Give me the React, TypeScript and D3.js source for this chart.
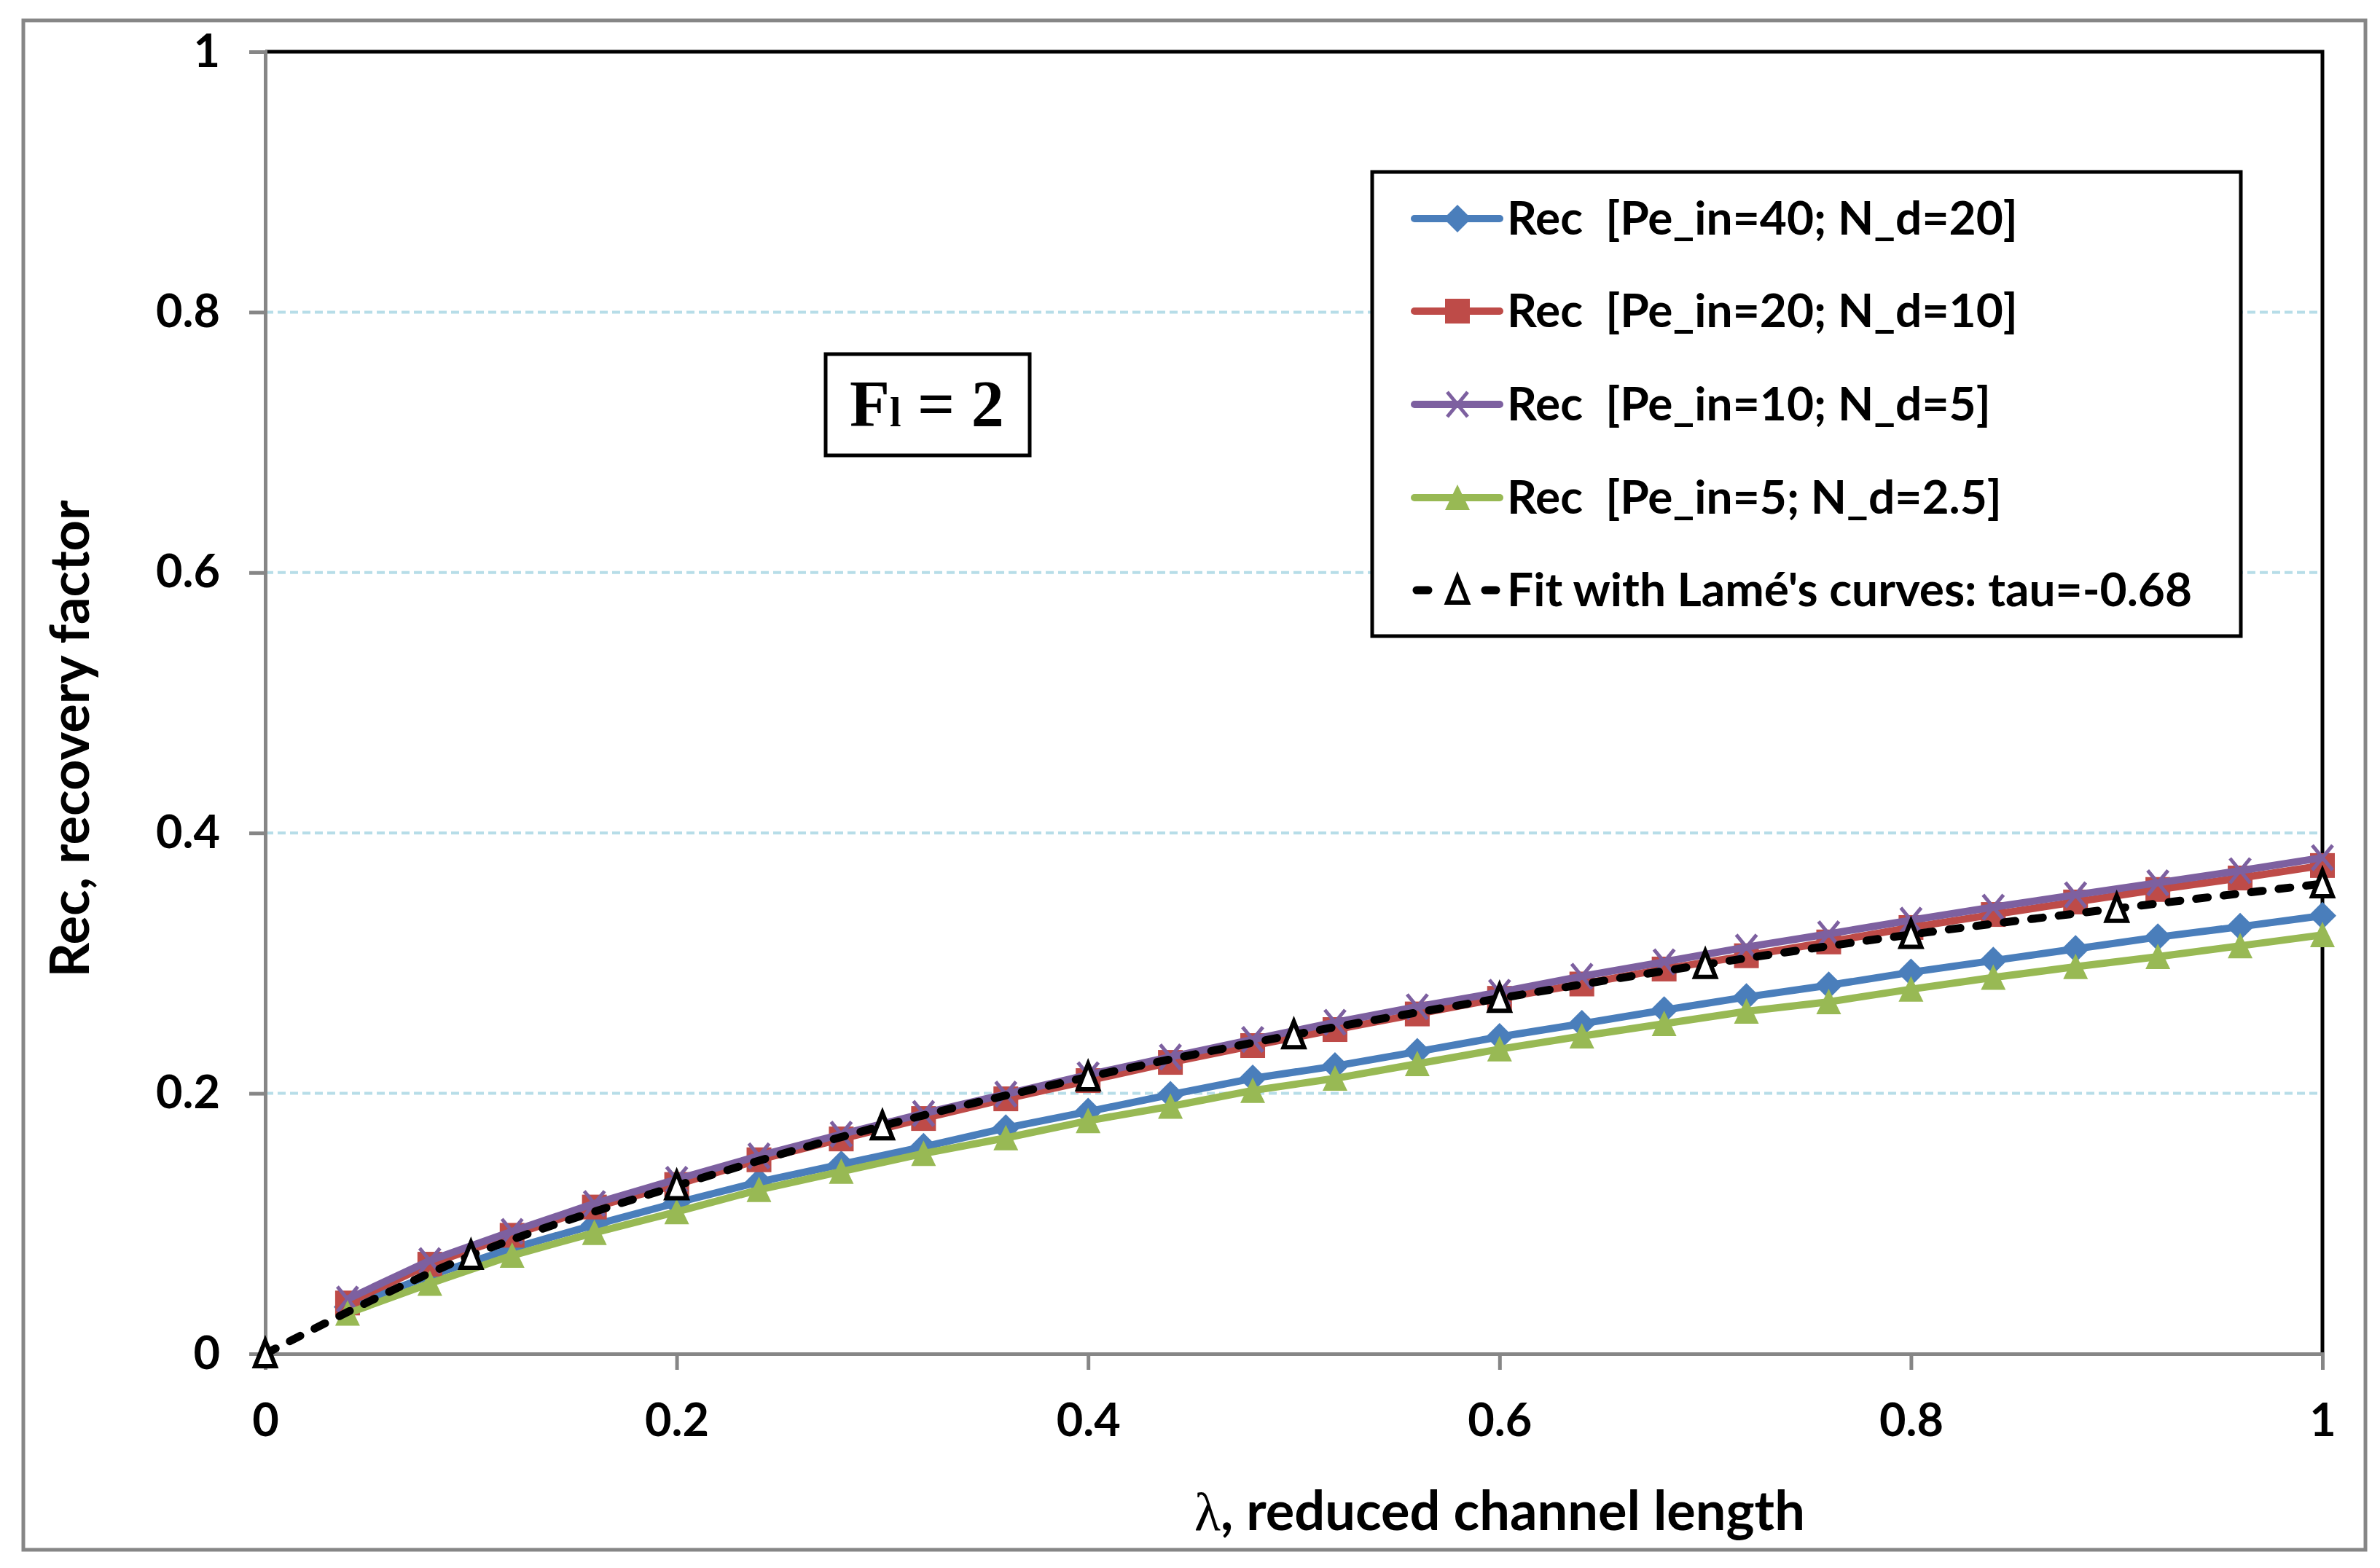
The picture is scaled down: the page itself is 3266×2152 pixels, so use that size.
import { useEffect, useRef } from "react"
import * as d3 from "d3"

// reduced channel length values of the simulated series
const lambdaRec = [0.04, 0.08, 0.12, 0.16, 0.2, 0.24, 0.28, 0.32, 0.36, 0.4, 0.44, 0.48, 0.52, 0.56, 0.6, 0.64, 0.68, 0.72, 0.76, 0.8, 0.84, 0.88, 0.92, 0.96, 1.0]

const recPe40 = [0.036, 0.06, 0.081, 0.099, 0.116, 0.132, 0.1455, 0.159, 0.1734, 0.186, 0.199, 0.2115, 0.221, 0.232, 0.2434, 0.2535, 0.264, 0.274, 0.283, 0.293, 0.302, 0.311, 0.32, 0.328, 0.3365]
const recPe20 = [0.039, 0.0688, 0.091, 0.1127, 0.13, 0.149, 0.165, 0.1807, 0.1958, 0.2098, 0.2238, 0.2367, 0.249, 0.261, 0.273, 0.284, 0.2955, 0.3057, 0.3163, 0.3274, 0.3374, 0.347, 0.3566, 0.3654, 0.375]
const recPe10 = [0.042, 0.0716, 0.094, 0.1154, 0.134, 0.152, 0.1686, 0.1846, 0.1994, 0.2143, 0.228, 0.2414, 0.2546, 0.2665, 0.2777, 0.2899, 0.301, 0.3123, 0.3225, 0.333, 0.343, 0.3525, 0.3617, 0.371, 0.381]
const recPe5 = [0.031, 0.054, 0.0755, 0.093, 0.109, 0.126, 0.14, 0.1538, 0.1658, 0.179, 0.19, 0.2022, 0.2115, 0.2227, 0.234, 0.244, 0.2535, 0.263, 0.2703, 0.28, 0.289, 0.2973, 0.305, 0.3133, 0.3217]

// Lamé fit
const lambdaFit = [0, 0.1, 0.2, 0.3, 0.4, 0.5, 0.6, 0.7, 0.8, 0.9, 1.0]
const fitLame = [0, 0.0755, 0.129, 0.175, 0.2126, 0.245, 0.273, 0.299, 0.322, 0.342, 0.361]

const seriesLabels = [
  "Rec  [Pe_in=40; N_d=20]",
  "Rec  [Pe_in=20; N_d=10]",
  "Rec  [Pe_in=10; N_d=5]",
  "Rec  [Pe_in=5; N_d=2.5]",
]
const fitLabel = "Fit with Lamé's curves: tau=-0.68"

const xTicks = [0, 0.2, 0.4, 0.6, 0.8, 1]
const yTicks = [0, 0.2, 0.4, 0.6, 0.8, 1]
const gridTicks = [0.2, 0.4, 0.6, 0.8]

const FONT = "Lato, 'Open Sans', sans-serif"
const GREY = "#868686"

type Marker = "diamond" | "square" | "cross" | "triangle"

export default function App() {
  const svgRef = useRef<SVGSVGElement>(null)

  useEffect(() => {
    if (!svgRef.current) return
    document.body.style.margin = "0"

    const W = 3266
    const H = 2152
    const margin = { top: 71, right: 79, bottom: 294, left: 364 }
    const width = W - margin.left - margin.right
    const height = H - margin.top - margin.bottom

    const root = d3.select(svgRef.current)
    root.selectAll("*").remove()
    root.attr("width", W).attr("height", H)

    root.append("rect").attr("width", W).attr("height", H).attr("fill", "white")

    // outer chart border
    root
      .append("rect")
      .attr("x", 32)
      .attr("y", 28)
      .attr("width", 3214)
      .attr("height", 2099)
      .attr("fill", "none")
      .attr("stroke", GREY)
      .attr("stroke-width", 5)

    const svg = root.append("g").attr("transform", `translate(${margin.left},${margin.top})`)

    const x = d3.scaleLinear().domain([0, 1]).range([0, width])
    const y = d3.scaleLinear().domain([0, 1]).range([height, 0])

    // dashed grid lines
    svg
      .selectAll(".grid")
      .data(gridTicks)
      .enter()
      .append("line")
      .attr("x1", 0)
      .attr("x2", width)
      .attr("y1", (d) => y(d))
      .attr("y2", (d) => y(d))
      .attr("stroke", "#B7DDE8")
      .attr("stroke-width", 4)
      .attr("stroke-dasharray", "11 6")

    // top and right border of plot area
    svg
      .append("path")
      .attr("d", `M0,0H${width}V${height}`)
      .attr("fill", "none")
      .attr("stroke", "black")
      .attr("stroke-width", 5)

    // axes
    const yAxis = svg
      .append("g")
      .call(
        d3
          .axisLeft(y)
          .tickValues(yTicks)
          .tickSize(22)
          .tickPadding(40)
          .tickFormat((d) => d3.format("")(d as number))
      )
    const xAxis = svg
      .append("g")
      .attr("transform", `translate(0,${height})`)
      .call(
        d3
          .axisBottom(x)
          .tickValues(xTicks)
          .tickSize(22)
          .tickPadding(46)
          .tickFormat((d) => d3.format("")(d as number))
      )
    ;[yAxis, xAxis].forEach((ax) => {
      ax.select(".domain").attr("stroke", GREY).attr("stroke-width", 5)
      ax.selectAll(".tick line").attr("stroke", GREY).attr("stroke-width", 5)
      ax.selectAll(".tick text")
        .attr("fill", "black")
        .attr("font-family", FONT)
        .attr("font-weight", "bold")
        .attr("font-size", 63)
    })

    // marker drawing
    const drawMarker = (
      g: d3.Selection<SVGGElement, unknown, null, undefined>,
      kind: Marker,
      color: string
    ) => {
      if (kind === "diamond") {
        g.append("path").attr("d", "M0,-19L19,0L0,19L-19,0Z").attr("fill", color)
      } else if (kind === "square") {
        g.append("rect").attr("x", -17).attr("y", -17).attr("width", 34).attr("height", 34).attr("fill", color)
      } else if (kind === "cross") {
        g.append("path")
          .attr("d", "M-14,-17L14,17M14,-17L-14,17")
          .attr("stroke", color)
          .attr("stroke-width", 5)
          .attr("fill", "none")
      } else {
        g.append("path").attr("d", "M0,-18L17,17L-17,17Z").attr("fill", color)
      }
    }

    const series = [
      { values: recPe40, color: "#4A7EBB", marker: "diamond" as Marker },
      { values: recPe20, color: "#BE4B48", marker: "square" as Marker },
      { values: recPe10, color: "#7D60A0", marker: "cross" as Marker },
      { values: recPe5, color: "#98B954", marker: "triangle" as Marker },
    ]

    const line = d3
      .line<[number, number]>()
      .x((d) => x(d[0]))
      .y((d) => y(d[1]))

    series.forEach((s) => {
      const pts = lambdaRec.map((l, i) => [l, s.values[i]] as [number, number])
      svg
        .append("path")
        .datum(pts)
        .attr("fill", "none")
        .attr("stroke", s.color)
        .attr("stroke-width", 10)
        .attr("stroke-linejoin", "round")
        .attr("d", line)
      pts.forEach((p) => {
        const g = svg.append("g").attr("transform", `translate(${x(p[0])},${y(p[1])})`)
        drawMarker(g, s.marker, s.color)
      })
    })

    // fit curve
    const fitPts = lambdaFit.map((l, i) => [l, fitLame[i]] as [number, number])
    svg
      .append("path")
      .datum(fitPts)
      .attr("fill", "none")
      .attr("stroke", "black")
      .attr("stroke-width", 11)
      .attr("stroke-linecap", "round")
      .attr("stroke-dasharray", "16 22")
      .attr("d", line.curve(d3.curveMonotoneX))

    const fitTriangle = "M0,-18L14,17L-14,17Z"
    svg
      .selectAll(".fit-pt")
      .data(fitPts)
      .enter()
      .append("path")
      .attr("transform", (d) => `translate(${x(d[0])},${y(d[1])})`)
      .attr("d", fitTriangle)
      .attr("fill", "white")
      .attr("stroke", "black")
      .attr("stroke-width", 6)
      .attr("stroke-linejoin", "miter")

    // legend
    const legend = root.append("g")
    legend
      .append("rect")
      .attr("x", 1883)
      .attr("y", 236)
      .attr("width", 1192)
      .attr("height", 637)
      .attr("fill", "white")
      .attr("stroke", "black")
      .attr("stroke-width", 5)

    const rowY = [300, 427, 555, 683, 810]
    series.forEach((s, i) => {
      legend
        .append("line")
        .attr("x1", 1941)
        .attr("x2", 2058)
        .attr("y1", rowY[i])
        .attr("y2", rowY[i])
        .attr("stroke", s.color)
        .attr("stroke-width", 10)
        .attr("stroke-linecap", "round")
      const g = legend.append("g").attr("transform", `translate(2000,${rowY[i]})`)
      drawMarker(g, s.marker, s.color)
      legend
        .append("text")
        .attr("x", 2068)
        .attr("y", rowY[i] + 22)
        .attr("font-family", FONT)
        .attr("font-weight", "bold")
        .attr("font-size", 64)
        .style("white-space", "pre")
        .text(seriesLabels[i])
    })
    ;[
      [1944, 1960],
      [2038, 2053],
    ].forEach(([a, b]) => {
      legend
        .append("line")
        .attr("x1", a)
        .attr("x2", b)
        .attr("y1", rowY[4])
        .attr("y2", rowY[4])
        .attr("stroke", "black")
        .attr("stroke-width", 11)
        .attr("stroke-linecap", "round")
    })
    legend
      .append("path")
      .attr("transform", `translate(2000,${rowY[4]})`)
      .attr("d", fitTriangle)
      .attr("fill", "white")
      .attr("stroke", "black")
      .attr("stroke-width", 6)
    legend
      .append("text")
      .attr("x", 2068)
      .attr("y", rowY[4] + 22)
      .attr("font-family", FONT)
      .attr("font-weight", "bold")
      .attr("font-size", 64)
      .text(fitLabel)

    // F_l = 2 box
    const fbox = root.append("g")
    fbox
      .append("rect")
      .attr("x", 1133)
      .attr("y", 486)
      .attr("width", 280)
      .attr("height", 139)
      .attr("fill", "white")
      .attr("stroke", "black")
      .attr("stroke-width", 5)
    const ft = fbox
      .append("text")
      .attr("x", 1166)
      .attr("y", 585)
      .attr("font-family", "'Liberation Serif', 'DejaVu Serif', serif")
      .attr("font-weight", "bold")
      .attr("font-size", 90)
    ft.append("tspan").text("F")
    ft.append("tspan").attr("font-size", 56).text("l")
    ft.append("tspan").text(" = 2")

    // axis titles
    const xt = root
      .append("text")
      .attr("x", 2058)
      .attr("y", 2100)
      .attr("text-anchor", "middle")
      .attr("font-family", FONT)
      .attr("font-weight", "bold")
      .attr("font-size", 74)
    xt.append("tspan").attr("font-family", "'Liberation Serif', serif").attr("font-weight", "normal").text("λ")
    xt.append("tspan").text(", reduced channel length")

    root
      .append("text")
      .attr("transform", `translate(122,1014) rotate(-90)`)
      .attr("text-anchor", "middle")
      .attr("font-family", FONT)
      .attr("font-weight", "bold")
      .attr("font-size", 74)
      .text("Rec, recovery factor")
  }, [])

  return <svg ref={svgRef} style={{ display: "block" }} />
}
